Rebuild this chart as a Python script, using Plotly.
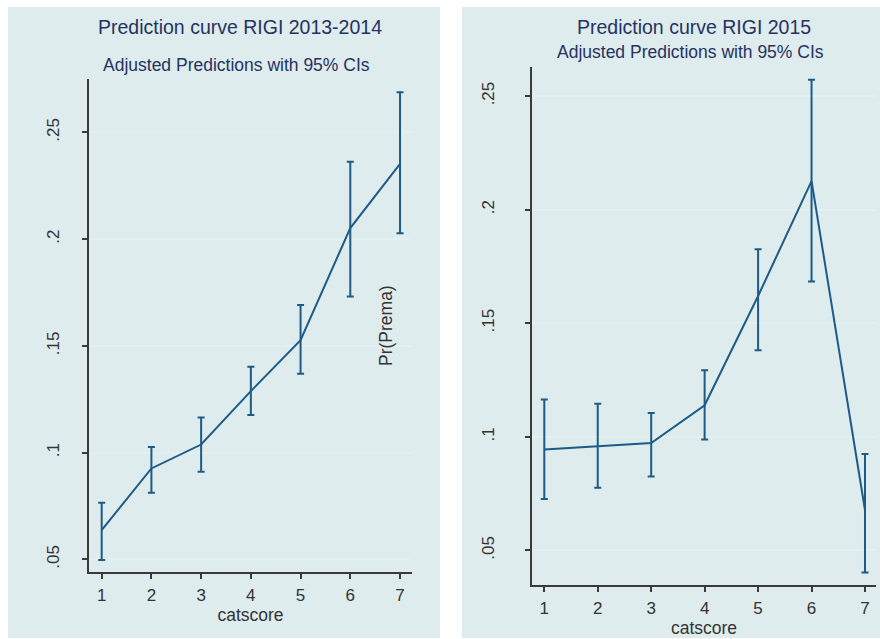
import plotly.graph_objects as go

# ---- data ----
catscore = [1, 2, 3, 4, 5, 6, 7]

pred_1314 = [0.0637, 0.0926, 0.1038, 0.1288, 0.1527, 0.2052, 0.2352]
upper_1314 = [0.0765, 0.1027, 0.1165, 0.1402, 0.1691, 0.2363, 0.2688]
lower_1314 = [0.0497, 0.0812, 0.0910, 0.1176, 0.1370, 0.1731, 0.2028]

pred_2015 = [0.0944, 0.0958, 0.0973, 0.1139, 0.1620, 0.2126, 0.0678]
upper_2015 = [0.1164, 0.1146, 0.1105, 0.1293, 0.1826, 0.2572, 0.0925]
lower_2015 = [0.0726, 0.0776, 0.0826, 0.0988, 0.1381, 0.1684, 0.0403]

y_tickvals = [0.05, 0.1, 0.15, 0.2, 0.25]
y_ticktext = [".05", ".1", ".15", ".2", ".25"]
x_tickvals = [1, 2, 3, 4, 5, 6, 7]

title_left = "Prediction curve RIGI 2013-2014"
title_right = "Prediction curve RIGI 2015"
subtitle = "Adjusted Predictions with 95% CIs"
x_title = "catscore"
y_title = "Pr(Prema)"

# ---- style ----
W, H = 880, 639
BG = "#DEECEE"
GRID = "#E4EFF1"
LINE = "#1D5B86"
AXIS = "#3a3a3a"
TXT = "#333333"
TITLE = "#26325F"
FONT = "Liberation Sans, Arial, sans-serif"


def px(x):
    return x / W


def py(y):
    return 1 - y / H


fig = go.Figure()


def add_series(pred, up, lo, xa, ya):
    fig.add_trace(go.Scatter(
        x=catscore, y=pred, mode="lines",
        line=dict(color=LINE, width=2),
        error_y=dict(
            type="data", symmetric=False,
            array=[u - p for u, p in zip(up, pred)],
            arrayminus=[p - l for p, l in zip(pred, lo)],
            color=LINE, thickness=2, width=3.5,
        ),
        xaxis=xa, yaxis=ya, showlegend=False, hoverinfo="skip",
    ))


add_series(pred_1314, upper_1314, lower_1314, "x", "y")
add_series(pred_2015, upper_2015, lower_2015, "x2", "y2")

xaxis_common = dict(
    tickvals=x_tickvals, showgrid=False, zeroline=False,
    showline=True, linecolor=AXIS, linewidth=1.5,
    ticks="outside", ticklen=5, tickwidth=1.5, tickcolor=AXIS,
    ticklabelstandoff=2,
    tickfont=dict(family=FONT, size=17, color=TXT),
    title=dict(text=x_title, font=dict(family=FONT, size=17.5, color=TXT), standoff=0),
)
yaxis_common = dict(
    tickvals=y_tickvals, ticktext=y_ticktext, tickangle=-90,
    showgrid=True, gridcolor=GRID, gridwidth=1.5, zeroline=False,
    showline=True, linecolor=AXIS, linewidth=1.5,
    ticks="outside", ticklen=5, tickwidth=1.5, tickcolor=AXIS,
    tickfont=dict(family=FONT, size=17, color=TXT),
)

fig.update_layout(
    width=W, height=H,
    margin=dict(l=0, r=0, t=0, b=0),
    paper_bgcolor="white", plot_bgcolor="white",
    xaxis=dict(domain=[px(89), px(412)], range=[0.745, 7.241], anchor="y", **xaxis_common),
    yaxis=dict(domain=[py(572), py(79)], range=[0.0441, 0.275], anchor="x",
               ticklabelstandoff=16, **yaxis_common),
    xaxis2=dict(domain=[px(532), px(876)], range=[0.77, 7.206], anchor="y2", **xaxis_common),
    yaxis2=dict(domain=[py(585), py(67)], range=[0.0348, 0.2628], anchor="x2",
                ticklabelstandoff=24, **yaxis_common),
    shapes=[
        dict(type="rect", xref="paper", yref="paper", layer="below",
             x0=px(8), x1=px(440), y0=py(638), y1=py(7),
             fillcolor=BG, line=dict(width=0)),
        dict(type="rect", xref="paper", yref="paper", layer="below",
             x0=px(462), x1=px(880), y0=py(638), y1=py(7),
             fillcolor=BG, line=dict(width=0)),
    ],
    annotations=[
        dict(text=title_left, xref="paper", yref="paper", x=px(240), y=py(27),
             xanchor="center", yanchor="middle",
             showarrow=False, font=dict(family=FONT, size=19.5, color=TITLE)),
        dict(text=subtitle, xref="paper", yref="paper", x=px(236), y=py(65),
             xanchor="center", yanchor="middle",
             showarrow=False, font=dict(family=FONT, size=17.5, color=TITLE)),
        dict(text=title_right, xref="paper", yref="paper", x=px(694), y=py(27),
             xanchor="center", yanchor="middle",
             showarrow=False, font=dict(family=FONT, size=19.5, color=TITLE)),
        dict(text=subtitle, xref="paper", yref="paper", x=px(690), y=py(52),
             xanchor="center", yanchor="middle",
             showarrow=False, font=dict(family=FONT, size=17.5, color=TITLE)),
        dict(text=y_title, xref="paper", yref="paper", x=px(386), y=py(326),
             xanchor="center", yanchor="middle",
             showarrow=False, textangle=-90, font=dict(family=FONT, size=17.5, color=TXT)),
    ],
)

fig.write_html("out.html", config={"displayModeBar": False},
               post_script="document.body.style.margin='0';")
